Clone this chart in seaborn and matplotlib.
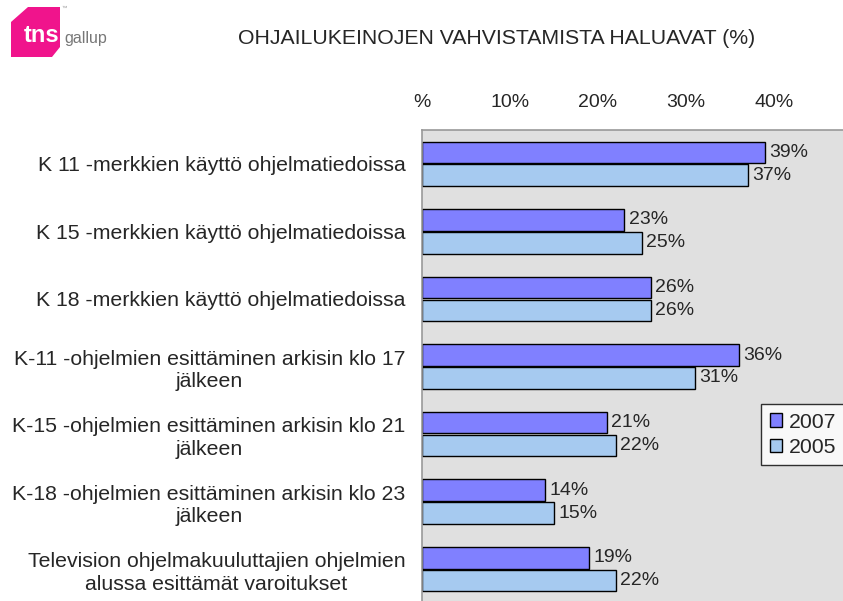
import matplotlib
matplotlib.use("Agg")
import matplotlib.pyplot as plt
import seaborn as sns
import pandas as pd
from matplotlib.patches import Polygon

categories = [
    "K 11 -merkkien käyttö ohjelmatiedoissa",
    "K 15 -merkkien käyttö ohjelmatiedoissa",
    "K 18 -merkkien käyttö ohjelmatiedoissa",
    "K-11 -ohjelmien esittäminen arkisin klo 17\njälkeen",
    "K-15 -ohjelmien esittäminen arkisin klo 21\njälkeen",
    "K-18 -ohjelmien esittäminen arkisin klo 23\njälkeen",
    "Television ohjelmakuuluttajien ohjelmien\nalussa esittämät varoitukset",
]
values_2007 = [39, 23, 26, 36, 21, 14, 19]
values_2005 = [37, 25, 26, 31, 22, 15, 22]
series = ["2007", "2005"]
colors = ["#8080ff", "#a6caf0"]
tick_values = [0, 10, 20, 30, 40]
tick_labels = ["%", "10%", "20%", "30%", "40%"]
title = "OHJAILUKEINOJEN VAHVISTAMISTA HALUAVAT (%)"

sns.set_theme(style="white")
plt.rcParams["font.family"] = ["Liberation Sans", "DejaVu Sans"]

df = pd.DataFrame({
    "cat": categories * 2,
    "val": values_2007 + values_2005,
    "year": [series[0]] * len(categories) + [series[1]] * len(categories),
})

W, H = 843, 601
fig = plt.figure(figsize=(W / 100, H / 100), dpi=100)
fig.patch.set_facecolor("white")

px = 8.8  # pixels per percent
ax_left, ax_top, ax_bottom = 422, 130, 603
xmax = 50
ax = fig.add_axes([ax_left / W, 1 - ax_bottom / H, xmax * px / W, (ax_bottom - ax_top) / H])
ax.set_facecolor("#e0e0e0")

sns.barplot(data=df, y="cat", x="val", hue="year", orient="h",
            palette=colors, saturation=1, edgecolor="black", linewidth=1.0,
            width=0.68, gap=0.06, ax=ax, legend=True)

ax.set_xlim(0, xmax)
ax.set_ylim(len(categories) - 0.5, -0.5)
ax.set_xlabel("")
ax.set_ylabel("")
ax.xaxis.tick_top()
ax.set_xticks(tick_values)
ax.set_xticklabels(tick_labels, fontsize=14)
ax.tick_params(axis="x", length=0, pad=14)
ax.tick_params(axis="y", length=0, pad=12)
for lab in ax.get_yticklabels():
    lab.set_fontsize(15.3)
    lab.set_multialignment("center")
    lab.set_linespacing(1.25)

for s in ["right", "bottom"]:
    ax.spines[s].set_visible(False)
for s in ["top", "left"]:
    ax.spines[s].set_color("#999999")
    ax.spines[s].set_linewidth(1.2)

for cont in ax.containers:
    ax.bar_label(cont, labels=[f"{int(v)}%" for v in cont.datavalues],
                 padding=3, fontsize=14)

leg = ax.legend(loc="upper left",
                bbox_to_anchor=((761 - ax_left) / (xmax * px), 1 - (404 - ax_top) / (ax_bottom - ax_top)),
                frameon=True, fancybox=False, fontsize=15.3, handlelength=0.6,
                handleheight=0.6, handletextpad=0.3, borderpad=0.4, labelspacing=0.3,
                borderaxespad=0)
leg.get_frame().set_edgecolor("black")
leg.get_frame().set_linewidth(1.0)
leg.get_frame().set_facecolor("white")

fig.text(497 / W, 1 - 38 / H, title, ha="center", va="center", fontsize=15.3)

# logo
pink = "#f0148c"
pts = [(11, 22), (28, 7), (60, 7), (60, 47), (52, 57), (11, 57)]
logo = Polygon([(x / W, 1 - y / H) for x, y in pts], closed=True,
               transform=fig.transFigure, facecolor=pink, edgecolor="none")
fig.patches.append(logo)
fig.text(24 / W, 1 - 36 / H, "tns", color="white", fontsize=17, fontweight="bold",
         ha="left", va="center")
fig.text(64 / W, 1 - 38 / H, "gallup", color="#777777", fontsize=11.5, ha="left", va="center")
fig.text(61 / W, 1 - 8 / H, "™", color="#999999", fontsize=4, ha="left", va="center")

fig.savefig("out.png", dpi=100)
